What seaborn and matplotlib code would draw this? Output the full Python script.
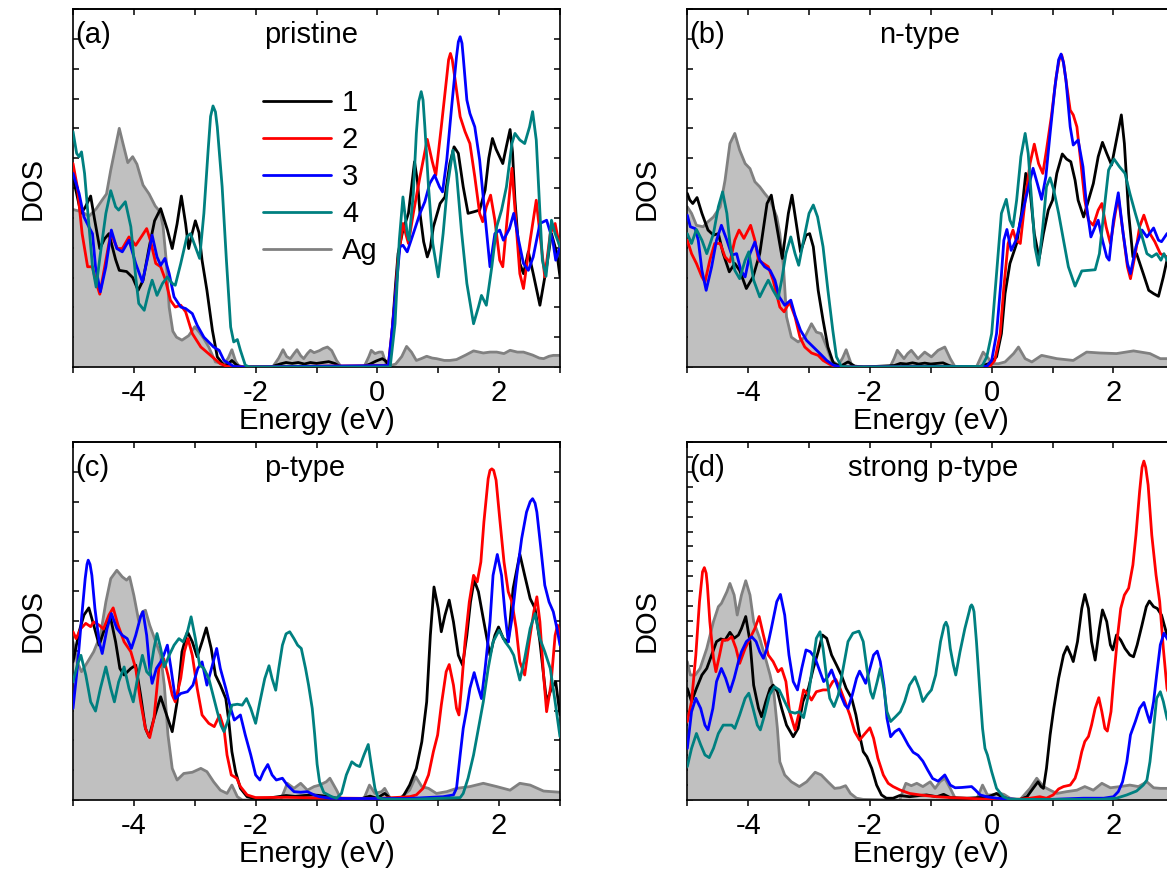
import matplotlib
matplotlib.use("Agg")
import matplotlib.pyplot as plt
import pandas as pd
import seaborn as sns

# ---------------- energy (eV), DOS (arb. units) ----------------
# (a) pristine
a_ag = [(-5.0,5.28),(-4.85,5.2),(-4.74,5.05),(-4.62,5.3),(-4.52,5.6),(-4.45,5.8),(-4.38,6.6),(-4.30,7.4),
        (-4.24,8.0),(-4.18,7.5),(-4.10,6.85),(-4.02,7.05),(-3.95,6.8),(-3.85,6.1),(-3.75,5.8),(-3.65,5.4),
        (-3.57,5.2),(-3.52,4.7),(-3.47,3.6),(-3.42,2.0),(-3.36,1.2),(-3.30,1.0),(-3.21,0.9),(-3.10,1.05),
        (-3.0,1.35),(-2.92,1.15),(-2.85,0.95),(-2.77,0.67),(-2.66,0.17),(-2.52,0.1),(-2.45,0.3),(-2.39,0.58),
        (-2.33,0.2),(-2.28,0.05),(-2.2,0.0),(-1.72,0.0),(-1.62,0.3),(-1.55,0.58),(-1.49,0.35),(-1.43,0.28),
        (-1.37,0.45),(-1.32,0.58),(-1.26,0.38),(-1.21,0.28),(-1.15,0.45),(-1.10,0.56),(-1.04,0.48),
        (-0.95,0.55),(-0.89,0.62),(-0.82,0.67),(-0.75,0.55),(-0.67,0.22),(-0.6,0.02),(-0.22,0.0),
        (-0.14,0.35),(-0.10,0.56),(-0.04,0.45),(0.03,0.5),(0.08,0.5),(0.15,0.06),(0.22,0.05),(0.3,0.1),
        (0.4,0.35),(0.48,0.69),(0.56,0.5),(0.64,0.22),(0.72,0.28),(0.81,0.36),(0.9,0.3),(0.97,0.28),
        (1.1,0.22),(1.19,0.22),(1.3,0.25),(1.45,0.4),(1.58,0.54),(1.74,0.47),(1.85,0.5),(1.96,0.5),
        (2.08,0.45),(2.18,0.56),(2.30,0.5),(2.40,0.5),(2.55,0.4),(2.66,0.3),(2.73,0.28),(2.82,0.36),
        (2.89,0.39),(3.0,0.39)]
a_1 = [(-5.0,6.32),(-4.95,5.9),(-4.87,5.15),(-4.80,5.35),(-4.71,5.73),(-4.65,5.0),(-4.56,3.97),(-4.48,4.3),
       (-4.41,4.47),(-4.30,3.6),(-4.24,3.24),(-4.12,3.2),(-4.02,3.0),(-3.93,2.57),(-3.85,2.9),(-3.75,4.0),
       (-3.66,4.9),(-3.56,5.31),(-3.45,4.6),(-3.37,3.97),(-3.29,4.8),(-3.22,5.73),(-3.15,4.8),(-3.10,3.97),
       (-3.04,4.5),(-2.99,4.9),(-2.93,4.5),(-2.88,3.58),(-2.80,2.57),(-2.71,1.23),(-2.63,0.34),(-2.52,0.05),
       (-2.45,0.1),(-2.39,0.22),(-2.32,0.08),(-2.25,0.0),(-1.75,0.0),(-1.6,0.1),(-1.5,0.15),(-1.4,0.12),
       (-1.3,0.15),(-1.2,0.1),(-1.1,0.15),(-1.0,0.12),(-0.9,0.15),(-0.8,0.18),(-0.7,0.12),(-0.6,0.0),
       (-0.25,0.0),(-0.12,0.1),(-0.02,0.2),(0.08,0.28),(0.14,0.2),(0.18,0.05),(0.22,0.6),(0.26,1.68),
       (0.30,2.8),(0.34,3.8),(0.42,4.59),(0.51,5.15),(0.56,6.0),(0.61,6.88),(0.66,6.2),(0.70,5.15),
       (0.76,4.2),(0.82,3.69),(0.87,4.0),(0.92,4.7),(1.03,5.48),(1.11,5.7),(1.19,6.82),(1.26,7.38),
       (1.33,7.16),(1.41,6.04),(1.49,5.15),(1.58,5.2),(1.68,5.26),(1.77,5.93),(1.83,7.0),(1.89,7.66),
       (1.95,7.3),(2.06,6.82),(2.12,7.4),(2.18,7.96),(2.22,7.2),(2.26,5.6),(2.34,3.47),(2.40,3.13),
       (2.48,3.86),(2.56,3.13),(2.67,2.07),(2.78,3.36),(2.86,4.47),(2.95,3.8),(3.0,3.02)]
a_2 = [(-5.0,6.82),(-4.93,6.04),(-4.85,4.47),(-4.76,3.36),(-4.68,3.36),(-4.63,2.9),(-4.56,2.44),(-4.46,3.58),
       (-4.38,4.47),(-4.27,3.97),(-4.19,3.97),(-4.08,4.36),(-3.97,4.08),(-3.86,4.42),(-3.79,4.64),
       (-3.73,4.25),(-3.64,3.47),(-3.56,3.36),(-3.48,2.91),(-3.40,2.24),(-3.32,2.01),(-3.23,2.07),
       (-3.15,1.85),(-3.04,1.12),(-2.90,0.67),(-2.74,0.39),(-2.58,0.11),(-2.47,0.02),(-2.3,0.0),(0.18,0.05),
       (0.24,1.2),(0.29,2.24),(0.34,3.6),(0.42,4.81),(0.51,4.14),(0.59,5.15),(0.70,6.38),(0.82,7.63),
       (0.90,6.9),(0.96,6.43),(1.05,8.05),(1.14,9.73),(1.17,10.3),(1.20,10.51),(1.23,10.3),(1.27,9.73),
       (1.36,8.39),(1.44,7.89),
       (1.52,7.49),(1.60,6.38),(1.68,5.15),(1.73,4.87),(1.79,5.37),(1.86,5.76),(1.93,4.92),(2.01,3.58),
       (2.06,3.36),(2.13,4.92),(2.21,6.66),(2.29,4.47),(2.34,3.13),(2.40,2.63),(2.51,4.25),(2.61,5.59),
       (2.67,4.47),(2.75,3.02),(2.84,4.47),(2.92,4.81),(3.0,3.97)]
a_3 = [(-5.0,6.49),(-4.90,5.82),(-4.82,5.03),(-4.74,4.70),(-4.68,4.47),(-4.63,3.36),(-4.55,2.52),(-4.46,3.36),
       (-4.37,4.59),(-4.28,3.97),(-4.19,3.86),(-4.08,4.25),(-3.97,3.47),(-3.86,2.85),(-3.77,3.69),
       (-3.70,4.42),(-3.62,3.69),(-3.56,3.41),(-3.49,3.64),(-3.42,3.13),(-3.34,2.35),(-3.23,2.01),
       (-3.15,1.96),(-3.04,1.79),(-2.96,1.4),(-2.85,1.0),(-2.69,0.67),(-2.60,0.56),(-2.52,0.22),
       (-2.36,0.02),(-2.2,0.0),(0.18,0.05),(0.24,1.2),(0.29,2.24),(0.37,4.03),(0.42,4.08),(0.49,3.86),
       (0.59,4.47),(0.70,5.15),(0.78,5.54),(0.86,6.15),(0.94,6.43),(1.02,6.04),(1.07,5.87),(1.14,6.94),
       (1.22,8.72),(1.30,10.4),(1.33,10.9),(1.36,11.07),(1.39,10.85),(1.41,10.4),(1.47,8.95),(1.52,8.5),
       (1.60,8.05),(1.68,6.94),
       (1.77,5.03),(1.85,3.36),(1.93,4.47),(2.01,4.59),(2.07,4.25),(2.17,4.64),(2.24,5.15),(2.32,4.25),
       (2.40,3.47),(2.48,3.24),(2.56,3.69),(2.67,4.81),(2.78,4.92),(2.88,4.25),(2.93,3.58),(3.0,4.03)]
a_4 = [(-5.0,7.89),(-4.94,7.16),(-4.90,7.05),(-4.86,7.21),(-4.81,6.49),(-4.75,5.03),(-4.68,3.36),(-4.62,2.68),
       (-4.55,3.8),(-4.46,5.15),(-4.38,5.91),(-4.30,5.37),(-4.25,5.26),(-4.14,5.54),(-4.05,4.70),
       (-3.97,3.02),(-3.92,2.13),(-3.83,1.90),(-3.75,2.57),(-3.70,2.91),(-3.62,2.40),(-3.53,2.8),
       (-3.45,3.02),(-3.37,2.8),(-3.32,2.74),(-3.23,3.47),(-3.13,4.36),(-3.07,4.47),(-2.99,4.03),
       (-2.92,3.64),(-2.85,5.15),(-2.78,7.27),(-2.74,8.4),(-2.70,8.75),(-2.66,8.55),(-2.63,8.05),
       (-2.55,6.04),(-2.48,3.58),
       (-2.41,1.34),(-2.36,0.84),(-2.30,0.92),(-2.25,0.56),(-2.17,0.06),(-2.1,0.0),(0.21,0.0),(0.29,1.45),
       (0.36,4.25),(0.42,5.7),(0.49,4.47),(0.52,4.25),(0.59,5.8),(0.64,7.83),(0.68,8.9),(0.72,9.23),
       (0.75,8.95),(0.78,8.05),
       (0.84,6.04),(0.91,4.14),(1.00,3.02),(1.08,4.47),(1.15,6.04),(1.24,7.27),(1.30,6.49),(1.38,4.59),
       (1.47,2.80),(1.58,1.45),(1.66,2.01),(1.71,2.4),(1.79,2.07),(1.88,3.36),(1.96,4.7),(2.04,5.26),
       (2.12,6.04),(2.21,7.49),(2.26,7.83),(2.34,7.61),(2.42,7.49),(2.50,8.05),(2.55,8.56),(2.61,7.61),
       (2.66,5.59),(2.71,3.58),(2.77,3.04),(2.82,4.03),(2.86,4.92),(2.92,4.47),(3.0,4.03)]

# (b) n-type
b_ag = [(-5.0,5.37),(-4.93,5.15),(-4.85,4.75),(-4.74,4.70),(-4.66,4.87),(-4.57,5.03),(-4.46,5.37),(-4.38,6.26),
        (-4.30,7.49),(-4.22,7.83),(-4.14,7.27),(-4.05,6.82),(-3.97,6.65),(-3.89,6.21),(-3.81,6.04),
        (-3.73,5.82),(-3.64,5.6),(-3.53,5.03),(-3.48,4.47),(-3.42,3.36),(-3.37,1.68),(-3.29,1.0),
        (-3.18,0.84),(-3.07,1.0),(-2.96,1.45),(-2.88,1.17),(-2.80,1.12),(-2.71,0.67),(-2.63,0.22),
        (-2.52,0.06),(-2.45,0.3),(-2.39,0.58),(-2.30,0.06),(-2.22,0.0),(-1.67,0.0),(-1.60,0.3),(-1.55,0.56),
        (-1.44,0.28),(-1.38,0.45),(-1.32,0.56),(-1.21,0.28),(-1.10,0.5),(-0.99,0.34),(-0.88,0.56),
        (-0.77,0.67),(-0.68,0.28),(-0.60,0.0),(-0.25,0.0),(-0.14,0.5),(-0.05,0.28),(0.0,0.11),(0.11,0.11),
        (0.22,0.17),(0.36,0.45),(0.44,0.67),(0.55,0.28),(0.66,0.17),(0.82,0.39),(1.07,0.28),(1.34,0.22),
        (1.56,0.5),(1.78,0.47),(2.05,0.45),(2.33,0.54),(2.60,0.45),(2.77,0.28),(2.88,0.28),(3.0,0.3)]
b_1 = [(-5.0,5.82),(-4.96,5.6),(-4.91,5.48),(-4.84,5.68),(-4.76,5.15),(-4.66,4.59),(-4.57,4.42),(-4.49,4.47),
       (-4.41,3.80),(-4.31,3.19),(-4.22,3.47),(-4.14,3.24),(-4.03,2.63),(-3.92,3.02),(-3.81,3.80),
       (-3.69,5.48),(-3.62,5.76),(-3.53,4.7),(-3.44,3.64),(-3.34,5.15),(-3.28,5.76),(-3.21,4.81),
       (-3.14,3.86),(-3.05,4.42),(-2.99,4.47),(-2.93,4.03),(-2.85,2.57),(-2.77,1.57),(-2.69,0.67),
       (-2.60,0.13),(-2.49,0.02),(-2.36,0.17),(-2.25,0.03),(-2.1,0.0),(-1.6,0.05),(-1.5,0.12),(-1.4,0.1),
       (-1.3,0.14),(-1.2,0.1),(-1.1,0.13),(-1.0,0.1),(-0.9,0.12),(-0.8,0.14),(-0.7,0.05),(-0.6,0.0),
       (-0.19,0.02),(-0.05,0.11),(0.08,0.34),(0.16,1.12),(0.22,2.46),(0.30,3.47),(0.41,4.14),(0.49,5.15),
       (0.56,6.49),(0.63,5.93),(0.70,4.47),(0.78,3.64),(0.85,4.47),(0.93,5.26),(1.00,5.59),(1.07,6.49),
       (1.16,7.14),(1.23,6.97),(1.30,6.88),(1.37,6.26),(1.42,5.59),(1.51,5.03),(1.59,5.59),(1.67,6.15),
       (1.75,7.05),(1.82,7.53),(1.89,7.16),(1.97,6.77),(2.05,7.61),(2.13,8.45),(2.18,7.49),(2.25,5.15),
       (2.32,3.69),(2.38,3.80),(2.49,3.13),(2.58,2.57),(2.66,2.46),(2.74,2.37),(2.82,3.02),(2.88,3.58),
       (3.0,4.3)]
b_2 = [(-5.0,4.25),(-4.93,3.80),(-4.85,3.47),(-4.76,3.02),(-4.71,2.85),(-4.63,3.58),(-4.55,4.14),(-4.46,4.14),
       (-4.38,3.69),(-4.30,3.52),(-4.22,4.25),(-4.15,4.59),(-4.07,4.31),(-4.0,4.59),(-3.96,4.75),
       (-3.89,4.25),(-3.83,3.58),(-3.75,3.47),(-3.67,3.36),(-3.59,2.91),(-3.48,2.01),(-3.41,1.85),
       (-3.32,2.18),(-3.23,1.68),(-3.15,1.0),(-3.07,0.67),(-2.96,0.47),(-2.85,0.39),(-2.77,0.22),
       (-2.66,0.09),(-2.55,0.0),(-0.03,0.02),(0.05,0.22),(0.14,1.12),(0.20,2.68),(0.27,4.14),(0.35,4.59),
       (0.40,4.25),(0.47,4.14),(0.55,5.59),(0.63,6.82),(0.70,7.47),(0.77,6.82),(0.84,6.49),(0.90,7.27),
       (0.98,8.39),(1.06,9.73),(1.11,10.3),(1.15,10.46),(1.18,10.2),(1.22,9.62),(1.29,8.61),(1.34,8.45),
       (1.40,8.05),(1.46,6.94),
       (1.53,5.59),(1.59,4.92),(1.67,4.75),(1.75,5.26),(1.81,5.48),(1.88,4.7),(1.95,4.14),(2.03,5.15),
       (2.08,5.7),(2.16,4.47),(2.23,3.36),(2.28,2.96),(2.36,3.80),(2.43,4.7),(2.50,5.09),(2.60,4.47),
       (2.68,4.2),(2.77,3.80),(2.88,3.69),(3.0,3.8)]
b_3 = [(-5.0,5.09),(-4.95,4.70),(-4.87,4.64),(-4.82,4.25),(-4.76,3.24),(-4.69,2.57),(-4.60,3.36),(-4.52,4.25),
       (-4.44,4.75),(-4.35,4.25),(-4.27,3.75),(-4.19,3.80),(-4.12,3.24),(-4.05,3.02),(-3.97,3.80),
       (-3.89,4.19),(-3.81,3.58),(-3.73,3.36),(-3.64,3.24),(-3.56,2.91),(-3.49,2.35),(-3.40,2.07),
       (-3.30,2.24),(-3.23,1.73),(-3.14,1.23),(-3.04,0.89),(-2.93,0.67),(-2.82,0.45),(-2.71,0.22),
       (-2.60,0.06),(-2.47,0.0),(-0.08,0.02),(0.0,0.22),(0.08,1.12),(0.15,2.8),(0.20,4.25),(0.25,4.61),
       (0.32,3.91),(0.40,4.25),(0.49,5.03),(0.58,5.82),(0.68,6.66),(0.75,6.15),(0.82,5.62),(0.89,6.38),
       (0.96,7.83),(1.04,9.4),(1.10,10.3),(1.14,10.49),(1.18,10.2),(1.22,9.62),(1.29,8.05),(1.34,7.44),
       (1.42,7.61),(1.50,6.71),
       (1.56,5.37),(1.63,4.36),(1.70,4.70),(1.75,4.92),(1.82,4.25),(1.89,3.69),(1.93,3.58),(2.00,4.92),
       (2.08,5.84),(2.16,4.47),(2.23,3.47),(2.28,3.13),(2.37,4.03),(2.47,4.59),(2.55,4.36),(2.66,4.66),
       (2.74,4.25),(2.79,4.2),(2.88,4.47),(3.0,4.6)]
b_4 = [(-5.0,4.47),(-4.93,4.14),(-4.85,4.61),(-4.76,4.25),(-4.68,3.80),(-4.57,4.47),(-4.49,5.37),(-4.42,5.87),
       (-4.35,5.15),(-4.30,4.14),(-4.22,3.24),(-4.14,2.96),(-4.05,3.58),(-3.99,3.86),(-3.91,2.91),
       (-3.81,2.35),(-3.73,2.68),(-3.67,2.91),(-3.59,2.57),(-3.51,2.29),(-3.45,2.91),(-3.38,3.80),
       (-3.30,4.36),(-3.23,3.80),(-3.17,3.41),(-3.09,4.25),(-3.00,5.15),(-2.93,5.43),(-2.86,5.03),
       (-2.77,4.03),(-2.69,2.57),(-2.61,1.23),(-2.55,0.34),(-2.47,0.02),(-2.3,0.0),(-0.16,0.02),
       (-0.08,0.34),(0.0,1.12),(0.08,3.13),(0.16,5.15),(0.24,5.62),(0.30,4.92),(0.35,4.7),(0.41,5.59),
       (0.48,7.05),(0.55,7.83),(0.60,7.16),(0.66,5.48),(0.71,4.03),(0.77,3.41),(0.84,4.70),(0.90,6.04),
       (0.96,6.34),(1.02,5.93),(1.10,5.15),(1.18,4.25),(1.26,3.36),(1.37,2.71),(1.48,3.22),(1.59,3.24),
       (1.70,3.26),(1.77,3.80),(1.84,5.15),(1.92,6.6),(2.01,6.97),(2.10,6.71),(2.19,6.49),(2.27,5.82),
       (2.36,5.15),(2.44,4.59),(2.55,3.80),(2.63,3.69),(2.71,3.80),(2.78,3.58),(2.83,3.80),(2.88,3.58),
       (3.0,3.4)]

# (c) p-type
c_ag = [(-5.0,5.30),(-4.93,4.63),(-4.86,4.30),(-4.76,4.63),(-4.66,4.97),(-4.55,5.52),(-4.46,6.64),(-4.38,7.42),
        (-4.28,7.70),(-4.19,7.48),(-4.12,7.37),(-4.07,7.48),(-4.00,6.86),(-3.92,6.0),(-3.86,6.31),
        (-3.81,6.36),(-3.74,5.86),(-3.64,5.30),(-3.56,4.85),(-3.50,3.85),(-3.44,2.18),(-3.37,1.06),
        (-3.29,0.67),(-3.18,0.89),(-3.04,0.93),(-2.90,1.06),(-2.80,0.95),(-2.69,0.61),(-2.58,0.33),
        (-2.47,0.22),(-2.39,0.50),(-2.30,0.11),(-2.22,0.0),(-1.59,0.0),(-1.52,0.35),(-1.48,0.56),
        (-1.37,0.39),(-1.26,0.56),(-1.15,0.33),(-1.04,0.45),(-0.95,0.50),(-0.84,0.61),(-0.78,0.73),
        (-0.67,0.33),(-0.59,0.0),(-0.23,0.0),(-0.13,0.50),(-0.04,0.22),(0.07,0.28),(0.12,0.39),(0.21,0.06),
        (0.37,0.06),(0.53,0.33),(0.63,0.78),(0.73,0.45),(0.84,0.39),(0.97,0.22),(1.14,0.28),(1.30,0.39),
        (1.52,0.45),(1.74,0.56),(1.96,0.45),(2.18,0.33),(2.34,0.56),(2.51,0.50),(2.73,0.30),(3.0,0.26)]
c_1 = [(-5.0,4.63),(-4.90,5.64),(-4.82,6.2),(-4.74,6.44),(-4.66,5.86),(-4.57,5.19),(-4.46,5.86),(-4.38,6.08),
       (-4.30,5.30),(-4.23,4.41),(-4.16,4.19),(-4.05,4.41),(-3.97,4.52),(-3.89,3.52),(-3.81,2.40),
       (-3.75,2.12),(-3.67,2.73),(-3.56,3.46),(-3.48,2.96),(-3.37,2.29),(-3.29,3.29),(-3.21,4.97),
       (-3.12,5.64),(-3.04,5.30),(-2.96,4.80),(-2.88,5.30),(-2.81,5.77),(-2.73,5.08),(-2.66,4.19),
       (-2.58,3.85),(-2.49,3.40),(-2.44,2.63),(-2.39,1.62),(-2.33,0.95),(-2.25,0.39),(-2.14,0.11),
       (-2.03,0.06),(-1.8,0.06),(-1.6,0.12),(-1.5,0.15),(-1.35,0.12),(-1.2,0.15),(-1.05,0.17),(-0.9,0.14),
       (-0.78,0.11),(-0.62,0.03),(-0.29,0.03),(-0.12,0.13),(-0.01,0.06),(0.12,0.22),(0.21,0.06),
       (0.32,0.02),(0.42,0.11),(0.53,0.50),(0.64,1.06),(0.73,1.95),(0.81,3.29),(0.87,5.52),(0.93,7.14),
       (1.00,6.42),(1.05,5.64),(1.11,6.19),(1.18,6.70),(1.25,5.97),(1.33,4.85),(1.40,4.52),(1.47,5.52),
       (1.53,6.64),(1.59,7.37),(1.66,6.98),(1.73,6.19),(1.79,5.52),(1.85,4.85),(1.93,5.52),(1.99,5.80),
       (2.07,5.41),(2.15,5.30),(2.23,7.09),(2.34,8.24),(2.42,7.53),(2.51,6.75),(2.59,6.42),(2.67,5.30),
       (2.73,4.19),(2.78,3.29),(2.86,3.74),(2.93,3.96),(3.0,2.85)]
c_2 = [(-5.0,5.64),(-4.95,5.41),(-4.87,5.75),(-4.79,5.92),(-4.71,5.81),(-4.66,5.97),(-4.57,5.86),(-4.50,5.73),
       (-4.41,6.2),(-4.34,6.44),(-4.26,5.86),(-4.16,5.30),(-4.05,4.97),(-3.97,4.41),(-3.89,3.29),
       (-3.81,2.40),(-3.74,2.09),(-3.67,2.73),(-3.59,4.41),(-3.51,4.74),(-3.44,4.19),(-3.37,3.52),
       (-3.32,3.29),(-3.23,4.08),(-3.17,4.97),(-3.11,5.41),(-3.04,4.85),(-2.96,3.74),(-2.88,2.85),
       (-2.77,2.57),(-2.68,2.46),(-2.59,2.85),(-2.52,2.40),(-2.47,1.51),(-2.40,0.84),(-2.31,0.73),
       (-2.25,0.45),(-2.14,0.17),(-2.0,0.08),(-1.5,0.09),(-1.0,0.07),(-0.5,0.06),(0.0,0.05),(0.53,0.11),
       (0.64,0.17),(0.75,0.39),(0.84,0.84),(0.92,1.62),(0.99,2.18),(1.05,3.18),(1.13,4.30),(1.18,4.54),
       (1.25,3.85),(1.30,3.07),(1.34,2.85),(1.38,3.74),(1.44,5.30),(1.51,6.64),(1.58,7.53),(1.64,7.31),
       (1.70,7.98),(1.75,9.32),(1.82,10.77),(1.85,11.05),(1.88,11.1),(1.91,11.05),(1.95,10.72),(2.01,9.43),
       (2.08,7.98),(2.15,6.98),
       (2.21,6.64),(2.28,5.75),(2.34,4.63),(2.42,4.19),(2.51,5.52),(2.57,6.31),(2.62,6.81),(2.67,5.97),
       (2.73,4.19),(2.78,2.96),(2.85,3.85),(2.92,5.52),(2.96,5.86),(3.0,5.52)]
c_3 = [(-5.0,3.07),(-4.93,4.41),(-4.86,6.08),(-4.80,7.42),(-4.77,7.9),(-4.75,8.04),(-4.72,7.9),(-4.69,7.53),
       (-4.64,6.42),(-4.57,5.30),
       (-4.52,4.91),(-4.44,5.75),(-4.37,6.25),(-4.28,5.75),(-4.19,5.52),(-4.11,5.41),(-4.04,5.08),
       (-3.97,5.52),(-3.89,6.14),(-3.85,6.31),(-3.79,5.52),(-3.74,4.41),(-3.70,3.91),(-3.63,4.41),
       (-3.56,4.63),(-3.51,4.85),(-3.45,5.19),(-3.39,4.41),(-3.32,3.40),(-3.23,3.57),(-3.12,3.63),
       (-3.03,3.85),(-2.95,4.41),(-2.88,4.63),(-2.80,3.85),(-2.71,4.52),(-2.64,5.08),(-2.58,4.41),
       (-2.49,3.74),(-2.41,3.07),(-2.35,2.68),(-2.25,2.85),(-2.17,2.18),(-2.08,1.51),(-2.00,0.84),
       (-1.93,0.67),(-1.87,0.95),(-1.80,1.19),(-1.73,0.84),(-1.66,0.67),(-1.56,0.73),(-1.48,0.50),
       (-1.37,0.28),(-1.26,0.26),(-1.15,0.28),(-1.04,0.17),(-0.95,0.11),(-0.78,0.06),(-0.5,0.05),
       (0.0,0.05),(0.5,0.05),(1.08,0.11),(1.25,0.17),(1.30,0.39),(1.36,1.51),(1.41,2.40),(1.47,3.07),
       (1.52,3.74),(1.59,4.27),(1.66,3.74),(1.71,3.40),(1.77,4.41),(1.85,5.97),(1.90,7.53),(1.97,8.23),
       (2.04,7.53),(2.10,6.19),(2.15,5.30),(2.21,6.08),(2.29,7.53),(2.37,8.76),(2.45,9.65),(2.51,10.0),
       (2.55,10.10),(2.59,9.95),
       (2.62,9.65),(2.68,8.54),(2.75,7.20),(2.82,6.64),(2.89,6.31),(2.95,5.75),(3.0,5.19)]
c_4 = [(-5.0,3.96),(-4.93,4.52),(-4.87,4.85),(-4.79,4.19),(-4.71,3.29),(-4.63,2.98),(-4.55,3.74),(-4.46,4.46),
       (-4.38,3.74),(-4.32,3.29),(-4.25,3.96),(-4.16,4.46),(-4.08,3.74),(-4.01,3.29),(-3.93,4.19),
       (-3.86,4.85),(-3.79,4.30),(-3.74,4.19),(-3.67,5.08),(-3.62,5.58),(-3.56,5.08),(-3.50,4.46),
       (-3.42,4.85),(-3.34,5.19),(-3.26,5.41),(-3.19,5.30),(-3.12,5.64),(-3.06,6.14),(-2.99,5.41),
       (-2.92,4.52),(-2.85,4.41),(-2.77,4.08),(-2.70,3.52),(-2.63,2.96),(-2.57,2.51),(-2.52,2.29),
       (-2.46,2.63),(-2.39,3.18),(-2.30,3.21),(-2.22,3.18),(-2.15,3.40),(-2.08,3.07),(-2.00,2.57),
       (-1.93,3.29),(-1.85,4.07),(-1.78,4.50),(-1.73,4.07),(-1.67,3.68),(-1.62,4.41),(-1.56,5.19),
       (-1.50,5.57),(-1.44,5.64),(-1.37,5.41),(-1.31,5.19),(-1.25,5.08),(-1.18,4.41),(-1.13,3.85),
       (-1.07,3.07),(-1.03,2.2),(-0.99,1.2),(-0.95,0.61),(-0.88,0.25),(-0.75,0.11),(-0.67,0.06),
       (-0.59,0.22),(-0.51,0.84),(-0.42,1.28),(-0.35,1.17),(-0.29,1.12),(-0.22,1.51),(-0.15,1.86),
       (-0.10,1.17),(-0.04,0.39),(0.01,0.08),(0.10,0.03),(0.5,0.02),(1.08,0.06),(1.36,0.08),(1.41,0.22),
       (1.49,0.73),(1.58,1.51),(1.66,2.40),(1.74,3.29),(1.82,4.41),(1.90,5.30),(2.00,5.69),(2.10,5.30),
       (2.18,5.08),(2.24,4.85),(2.34,4.02),(2.42,4.75),(2.51,5.75),(2.59,6.25),(2.67,5.41),(2.75,4.97),
       (2.84,4.41),(2.92,3.29),(3.0,2.12)]

# (d) strong p-type
d_ag = [(-5.0,4.64),(-4.95,4.19),(-4.87,4.19),(-4.79,4.41),(-4.68,5.08),(-4.57,5.98),(-4.49,6.48),(-4.44,6.59),
        (-4.35,6.98),(-4.30,7.26),(-4.23,6.87),(-4.18,6.20),(-4.11,6.87),(-4.04,7.35),(-3.97,6.87),
        (-3.91,5.98),(-3.81,5.42),(-3.73,4.86),(-3.64,4.19),(-3.58,3.63),(-3.52,2.40),(-3.48,1.28),
        (-3.40,0.84),(-3.29,0.61),(-3.16,0.45),(-3.04,0.61),(-2.90,0.93),(-2.80,0.84),(-2.69,0.61),
        (-2.58,0.39),(-2.49,0.41),(-2.40,0.48),(-2.32,0.22),(-2.22,0.06),(-2.11,0.02),(-1.51,0.0),
        (-1.45,0.35),(-1.41,0.56),(-1.32,0.48),(-1.23,0.56),(-1.13,0.45),(-1.01,0.61),(-0.93,0.39),
        (-0.85,0.61),(-0.77,0.73),(-0.68,0.39),(-0.60,0.06),(-0.25,0.0),(-0.15,0.50),(-0.07,0.17),
        (0.0,0.17),(0.14,0.22),(0.20,0.19),(0.30,0.06),(0.47,0.02),(0.63,0.39),(0.74,0.73),(0.85,0.45),
        (0.96,0.33),(1.07,0.22),(1.23,0.28),(1.40,0.33),(1.53,0.45),(1.67,0.33),(1.81,0.56),(1.95,0.41),
        (2.11,0.45),(2.27,0.50),(2.41,0.45),(2.55,0.61),(2.66,0.41),(2.77,0.39),(2.88,0.39),(3.0,0.4)]
d_1 = [(-5.0,3.74),(-4.93,3.30),(-4.85,3.74),(-4.76,4.19),(-4.68,4.41),(-4.60,4.86),(-4.52,5.31),(-4.45,5.40),
       (-4.38,5.36),(-4.30,5.62),(-4.23,5.42),(-4.16,5.53),(-4.11,5.75),(-4.04,6.15),(-3.97,5.31),
       (-3.91,3.85),(-3.83,3.07),(-3.78,2.79),(-3.71,3.30),(-3.64,3.74),(-3.59,3.85),(-3.52,3.63),
       (-3.45,3.07),(-3.37,2.51),(-3.26,2.12),(-3.18,2.40),(-3.10,3.30),(-3.01,3.74),(-2.93,4.41),
       (-2.85,4.97),(-2.78,5.53),(-2.71,5.42),(-2.63,4.86),(-2.55,4.53),(-2.47,4.19),(-2.39,3.74),
       (-2.30,3.41),(-2.23,2.85),(-2.17,2.18),(-2.11,1.62),(-2.05,1.45),(-1.97,1.06),(-1.89,0.50),
       (-1.81,0.17),(-1.73,0.06),(-1.62,0.06),(-1.51,0.15),(-1.35,0.11),(-1.18,0.15),(-1.07,0.17),
       (-0.90,0.11),(-0.79,0.19),(-0.68,0.08),(-0.41,0.06),(-0.22,0.08),(-0.05,0.11),(0.08,0.22),
       (0.16,0.11),(0.30,0.02),(0.47,0.02),(0.58,0.11),(0.68,0.39),(0.76,0.61),(0.81,0.45),(0.85,0.39),
       (0.90,1.06),(0.96,2.18),(1.02,3.07),(1.10,4.08),(1.18,4.86),(1.24,5.14),(1.30,4.86),(1.34,4.64),
       (1.41,5.31),(1.48,6.42),(1.53,6.89),(1.59,6.42),(1.64,5.31),(1.70,4.69),(1.77,5.75),(1.82,6.37),
       (1.89,5.98),(1.95,5.20),(1.99,5.03),(2.05,5.53),(2.12,5.36),(2.19,5.08),(2.27,4.86),(2.33,4.80),
       (2.39,5.20),(2.47,5.87),(2.54,6.48),(2.59,6.67),(2.66,6.48),(2.72,6.42),(2.79,6.20),(2.88,5.53),
       (3.0,4.8)]
d_2 = [(-5.0,2.63),(-4.93,3.30),(-4.86,4.86),(-4.80,6.65),(-4.75,7.65),(-4.72,7.79),(-4.69,7.6),(-4.67,7.2),
       (-4.63,5.98),
       (-4.57,4.75),(-4.53,4.30),(-4.47,4.86),(-4.42,5.36),(-4.34,5.36),(-4.27,5.47),(-4.20,5.08),
       (-4.14,4.58),(-4.05,5.08),(-3.97,5.42),(-3.89,5.75),(-3.82,6.15),(-3.75,5.53),(-3.67,4.86),
       (-3.59,4.64),(-3.51,4.30),(-3.45,4.41),(-3.38,3.97),(-3.32,2.96),(-3.23,2.35),(-3.16,2.96),
       (-3.09,3.69),(-3.01,3.52),(-2.96,3.35),(-2.88,3.63),(-2.77,3.69),(-2.69,3.69),(-2.61,3.97),
       (-2.56,4.04),(-2.49,3.74),(-2.41,3.30),(-2.33,2.85),(-2.25,2.29),(-2.17,2.01),(-2.08,2.23),
       (-2.00,2.42),(-1.94,2.07),(-1.87,1.40),(-1.78,0.84),(-1.70,0.56),(-1.62,0.45),(-1.51,0.34),
       (-1.35,0.22),(-1.18,0.17),(-0.90,0.11),(-0.68,0.08),(-0.41,0.06),(-0.14,0.03),(0.14,0.02),
       (0.41,0.02),(0.63,0.06),(0.79,0.11),(0.90,0.06),(1.01,0.17),(1.10,0.37),(1.18,0.45),(1.29,0.50),
       (1.37,0.73),(1.42,1.06),(1.48,1.62),(1.53,1.96),(1.59,2.13),(1.64,2.51),(1.70,3.07),(1.76,3.43),
       (1.81,2.96),(1.86,2.40),(1.90,2.31),(1.96,2.96),(2.01,4.19),(2.07,5.53),(2.12,6.42),(2.18,6.87),
       (2.25,7.10),(2.32,7.88),(2.37,8.88),(2.43,10.34),(2.47,11.15),(2.50,11.36),(2.53,11.15),(2.57,10.56),
       (2.63,8.88),(2.70,7.54),
       (2.76,6.65),(2.82,5.08),(2.88,3.74),(3.0,3.0)]
d_3 = [(-5.0,1.73),(-4.93,2.96),(-4.86,3.41),(-4.78,3.07),(-4.71,2.51),(-4.66,2.35),(-4.58,3.07),(-4.52,3.97),
       (-4.44,4.41),(-4.37,4.08),(-4.30,3.63),(-4.23,4.08),(-4.16,4.64),(-4.11,4.97),(-4.03,5.31),
       (-3.94,5.47),(-3.87,5.31),(-3.81,4.97),(-3.75,4.75),(-3.69,5.08),(-3.62,5.75),(-3.53,6.65),
       (-3.47,6.89),(-3.40,6.20),(-3.33,4.86),(-3.26,3.97),(-3.19,3.69),(-3.12,4.41),(-3.05,5.03),
       (-2.98,4.97),(-2.90,4.75),(-2.82,4.30),(-2.76,3.97),(-2.69,4.13),(-2.63,4.36),(-2.56,3.97),
       (-2.48,3.52),(-2.41,3.18),(-2.36,3.07),(-2.29,3.52),(-2.22,4.08),(-2.17,4.32),(-2.11,4.08),
       (-2.07,3.91),(-2.00,4.41),(-1.94,4.86),(-1.88,4.99),(-1.83,4.64),(-1.77,3.85),(-1.72,2.74),
       (-1.66,2.12),(-1.59,2.29),(-1.52,2.38),(-1.46,2.18),(-1.37,1.84),(-1.29,1.6),(-1.21,1.5),
       (-1.13,1.3),(-1.05,1.0),(-0.97,0.72),(-0.88,0.63),(-0.77,0.84),(-0.68,0.50),(-0.60,0.41),
       (-0.49,0.42),(-0.33,0.45),(-0.27,0.34),(-0.19,0.17),(-0.08,0.11),(0.08,0.06),(0.41,0.02),
       (0.96,0.02),(1.51,0.06),(1.84,0.06),(2.00,0.11),(2.08,0.28),(2.15,0.61),(2.22,1.28),(2.28,2.18),
       (2.36,2.63),(2.43,3.07),(2.50,3.27),(2.56,2.85),(2.60,2.60),(2.66,3.30),(2.71,4.19),(2.77,5.20),
       (2.83,5.59),(2.88,5.42),(3.0,5.0)]
d_4 = [(-5.0,1.12),(-4.93,1.73),(-4.85,2.23),(-4.78,1.85),(-4.71,1.51),(-4.64,1.42),(-4.57,1.73),(-4.49,2.23),
       (-4.41,2.51),(-4.33,2.51),(-4.27,2.51),(-4.22,2.40),(-4.14,2.85),(-4.05,3.41),(-3.99,3.58),
       (-3.92,3.07),(-3.85,2.51),(-3.80,2.35),(-3.73,2.85),(-3.65,3.52),(-3.57,3.80),(-3.49,3.69),
       (-3.40,3.30),(-3.32,2.96),(-3.23,2.91),(-3.16,2.96),(-3.09,2.76),(-3.01,3.52),(-2.94,4.53),
       (-2.88,5.42),(-2.82,5.64),(-2.77,5.08),(-2.71,4.08),(-2.66,3.41),(-2.59,3.13),(-2.52,3.52),
       (-2.44,4.41),(-2.36,5.31),(-2.28,5.59),(-2.18,5.66),(-2.11,5.31),(-2.05,4.41),(-1.99,3.63),
       (-1.95,3.41),(-1.88,3.97),(-1.83,4.41),(-1.77,3.74),(-1.72,2.96),(-1.66,2.63),(-1.58,2.79),
       (-1.50,2.96),(-1.43,3.30),(-1.35,3.85),(-1.26,4.13),(-1.19,3.74),(-1.13,3.30),(-1.06,3.52),
       (-0.99,3.69),(-0.92,4.19),(-0.84,5.31),(-0.78,5.85),(-0.75,5.96),(-0.72,5.8),(-0.68,5.08),
       (-0.63,4.53),(-0.59,4.19),
       (-0.52,4.97),(-0.44,5.75),(-0.37,6.31),(-0.35,6.48),(-0.33,6.54),(-0.31,6.47),(-0.29,6.31),
       (-0.25,5.31),(-0.19,3.52),
       (-0.15,2.40),(-0.11,1.73),(-0.07,1.51),(0.0,0.95),(0.08,0.39),(0.19,0.11),(0.30,0.02),(0.96,0.02),
       (1.78,0.02),(2.05,0.06),(2.22,0.17),(2.38,0.30),(2.49,0.50),(2.55,0.67),(2.60,1.28),(2.66,2.40),
       (2.71,3.41),(2.77,3.63),(2.82,3.30),(2.88,2.74),(3.0,2.2)]

series_labels = ["1", "2", "3", "4"]
series_colors = ["#000000", "#ff0000", "#0000ff", "#008080"]
ag_line = "#808080"
ag_fill = "#c0c0c0"

panel_tags = ["(a)", "(b)", "(c)", "(d)"]
panel_titles = ["pristine", "n-type", "p-type", "strong p-type"]
title_pos = [-1.09, -1.18, -1.19, -0.96]
x_major = [-4, -2, 0, 2]
x_minor = [-5, -3, -1, 1, 3]

sns.set_theme(style="ticks")
plt.rcParams.update({
    "font.family": ["Liberation Sans", "DejaVu Sans"],
    "axes.unicode_minus": False,
    "axes.edgecolor": "black",
    "axes.linewidth": 1.2,
    "xtick.color": "black",
    "ytick.color": "black",
    "text.color": "black",
    "axes.labelcolor": "black",
})

W, H = 1167, 875
fig = plt.figure(figsize=(W / 100, H / 100), dpi=100)

AW, AH = 487, 358
corners = [(73, 9), (687.3, 9), (73, 442), (687.3, 442)]
data = [
    (a_ag, [a_1, a_2, a_3, a_4]),
    (b_ag, [b_1, b_2, b_3, b_4]),
    (c_ag, [c_1, c_2, c_3, c_4]),
    (d_ag, [d_1, d_2, d_3, d_4]),
]
FS = 21


def frame(pts):
    return pd.DataFrame(pts, columns=["Energy", "DOS"])


for i, ((x0, y0), (ag, curves)) in enumerate(zip(corners, data)):
    ax = fig.add_axes([x0 / W, 1 - (y0 + AH) / H, AW / W, AH / H])
    agdf = frame(ag)
    ax.fill_between(agdf["Energy"], 0, agdf["DOS"], color=ag_fill, lw=0, zorder=1)
    sns.lineplot(data=agdf, x="Energy", y="DOS", ax=ax, color=ag_line, lw=2.0,
                 estimator=None, sort=False, legend=False, label="Ag", zorder=2)
    for pts, col, lab in zip(curves, series_colors, series_labels):
        sns.lineplot(data=frame(pts), x="Energy", y="DOS", ax=ax, color=col, lw=2.0,
                     estimator=None, sort=False, legend=False, label=lab, zorder=3)
    for ln in ax.get_lines():
        ln.set_solid_joinstyle("round")
        ln.set_solid_capstyle("round")

    ax.set_xlim(-5, 3)
    ax.set_ylim(0, 12)
    ax.set_xticks(x_major)
    ax.set_xticks(x_minor, minor=True)
    ax.set_xticklabels([str(v) for v in x_major])
    ax.tick_params(axis="x", which="both", direction="out", length=4, width=1.1,
                   labelsize=FS, pad=4.5, top=False)
    step = 0.5 if i == 3 else 1.0
    yt = [k * step for k in range(int(12 / step) + 1)]
    ax.set_yticks(yt)
    ax.tick_params(axis="y", which="both", direction="in", length=4, width=1.1,
                   left=True, right=True, labelleft=False)
    top = ax.secondary_xaxis("top")
    top.set_xticks(x_major)
    top.set_xticks(x_minor, minor=True)
    top.tick_params(which="both", direction="in", length=4, width=1.1, labeltop=False)

    ax.set_xlabel("Energy (eV)", fontsize=FS, labelpad=0)
    ax.set_ylabel("DOS", fontsize=FS, labelpad=19)

    ax.text(0.004, 0.905, panel_tags[i], transform=ax.transAxes, fontsize=FS,
            ha="left", va="baseline")
    ax.text(title_pos[i], 0.905, panel_titles[i], transform=ax.get_xaxis_transform(),
            fontsize=FS, ha="center", va="baseline")

    if i == 0:
        hs, ls = ax.get_legend_handles_labels()
        order = [ls.index(k) for k in series_labels + ["Ag"]]
        ax.legend([hs[k] for k in order], [ls[k] for k in order], loc="upper left",
                  bbox_to_anchor=(0.39, 0.776), frameon=False, fontsize=FS,
                  handlelength=2.33, handletextpad=0.38, labelspacing=0.31,
                  borderpad=0, borderaxespad=0)

fig.savefig("out.png", dpi=100)
